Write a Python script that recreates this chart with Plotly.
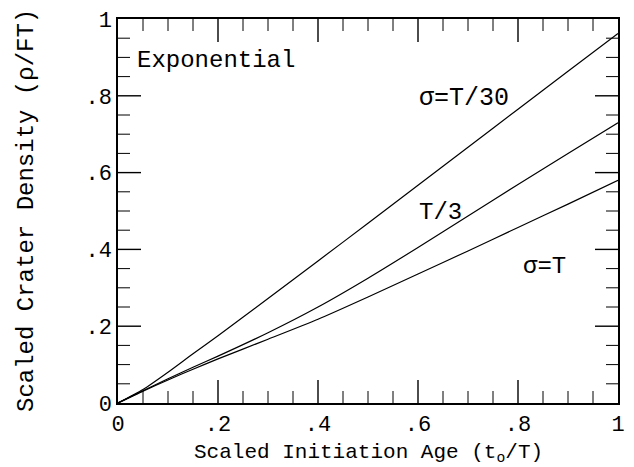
import plotly.graph_objects as go

x_age = [0, 0.05, 0.1, 0.15, 0.2, 0.3, 0.4, 0.5, 0.6, 0.7, 0.8, 0.9, 1.0]
rho_T30 = [0, 0.035, 0.08, 0.128, 0.175, 0.272, 0.37, 0.468, 0.567, 0.666, 0.765, 0.864, 0.962]
rho_T3 = [0, 0.032, 0.063, 0.093, 0.122, 0.183, 0.25, 0.325, 0.405, 0.487, 0.569, 0.65, 0.73]
rho_T = [0, 0.031, 0.06, 0.088, 0.115, 0.166, 0.218, 0.276, 0.336, 0.396, 0.457, 0.518, 0.58]

tick_alias = {"0.2": ".2", "0.4": ".4", "0.6": ".6", "0.8": ".8"}
major_ticks = [0.2, 0.4, 0.6, 0.8]
minor_ticks = [0.05, 0.1, 0.15, 0.25, 0.3, 0.35, 0.45, 0.5, 0.55, 0.65, 0.7, 0.75, 0.85, 0.9, 0.95]

FONT = "Liberation Mono"
MAJOR_LEN = 23
MINOR_LEN = 12

fig = go.Figure()
for y in (rho_T30, rho_T3, rho_T):
    fig.add_trace(go.Scatter(x=x_age, y=y, mode="lines",
                             line=dict(color="black", width=1.2, shape="spline", smoothing=0.6),
                             showlegend=False, hoverinfo="skip"))

base = dict(
    range=[0, 1], tickmode="linear", tick0=0, dtick=0.2, labelalias=tick_alias,
    ticks="",
    showline=True, linecolor="black", linewidth=1.5, mirror=True,
    showgrid=False, zeroline=False,
    tickfont=dict(family=FONT, size=22, color="black"),
)

fig.update_layout(
    width=634, height=467,
    margin=dict(l=118, r=9, t=17, b=64),
    paper_bgcolor="white", plot_bgcolor="white",
    xaxis=dict(**base),
    yaxis=dict(**base),
    font=dict(family=FONT, color="black"),
)

# tick marks (inside, on all four sides), placed through the axes' own scales
for vals, ln, w in ((major_ticks, MAJOR_LEN, 1.4), (minor_ticks, MINOR_LEN, 1.0)):
    for v in vals:
        style = dict(type="line", line=dict(color="black", width=w), layer="above")
        fig.add_shape(xref="x", yref="y", x0=v, x1=v, ysizemode="pixel", yanchor=0, y0=0, y1=ln, **style)
        fig.add_shape(xref="x", yref="y", x0=v, x1=v, ysizemode="pixel", yanchor=1, y0=0, y1=-ln, **style)
        fig.add_shape(xref="x", yref="y", y0=v, y1=v, xsizemode="pixel", xanchor=0, x0=0, x1=ln, **style)
        fig.add_shape(xref="x", yref="y", y0=v, y1=v, xsizemode="pixel", xanchor=1, x0=0, x1=-ln, **style)

annots = [
    dict(x=0.196, y=0.893, text="Exponential", size=24),
    dict(x=0.692, y=0.793, text="σ=T/30", size=25),
    dict(x=0.645, y=0.497, text="T/3", size=24),
    dict(x=0.853, y=0.356, text="σ=T", size=24),
]
for a in annots:
    fig.add_annotation(x=a["x"], y=a["y"], xref="x", yref="y", text=a["text"],
                       xanchor="center", yanchor="middle", showarrow=False,
                       font=dict(family=FONT, size=a["size"], color="black"))

fig.add_annotation(x=0.5, y=0, xref="paper", yref="paper", yshift=-50,
                   text="Scaled Initiation Age (t<sub>o</sub>/T)", showarrow=False,
                   xanchor="center", yanchor="middle",
                   font=dict(family=FONT, size=21, color="black"))
fig.add_annotation(x=0, y=0.5, xref="paper", yref="paper", xshift=-92,
                   text="Scaled Crater Density (ρ/FT)", showarrow=False, textangle=-90,
                   xanchor="center", yanchor="middle",
                   font=dict(family=FONT, size=24, color="black"))

fig.write_html("out.html")
